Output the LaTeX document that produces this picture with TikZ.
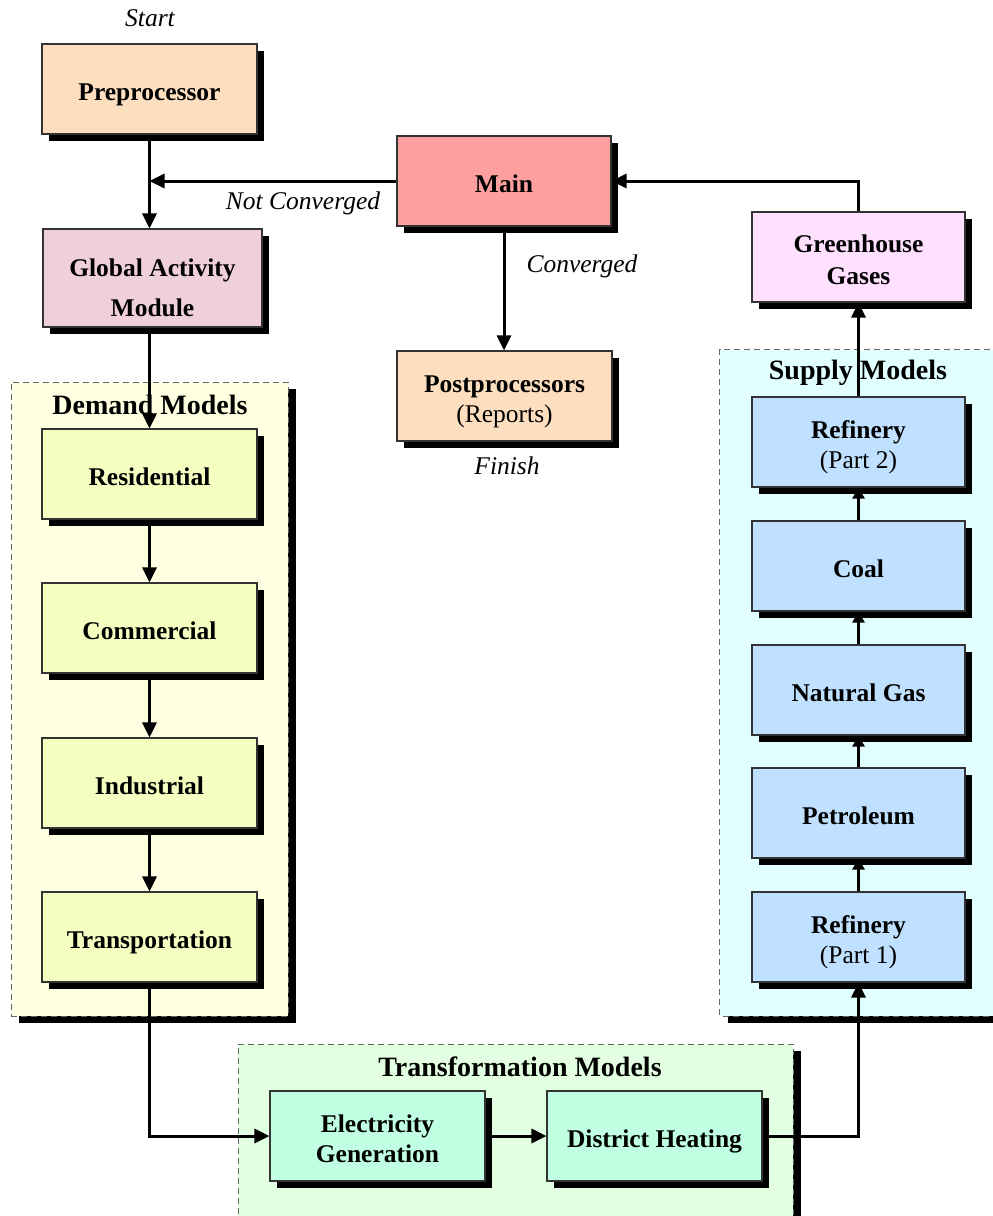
\documentclass[tikz,border=0pt]{standalone}
\usepackage{fontspec}
\setmainfont{Liberation Serif}
\usetikzlibrary{arrows.meta,shadows,calc}
\definecolor{cPre}{RGB}{253,223,192}
\definecolor{cMain}{RGB}{255,160,160}
\definecolor{cGam}{RGB}{240,208,216}
\definecolor{cGhg}{RGB}{255,224,255}
\definecolor{cDemBox}{RGB}{243,254,192}
\definecolor{cDemBg}{RGB}{255,255,226}
\definecolor{cSupBg}{RGB}{226,255,255}
\definecolor{cSupBox}{RGB}{192,224,255}
\definecolor{cTrBg}{RGB}{226,255,226}
\definecolor{cTrBox}{RGB}{192,255,226}
\tikzset{
  box/.style={draw=black!80, line width=1.1pt, minimum width=215pt, minimum height=90pt,
    align=center, inner sep=2pt, font=\fontsize{25.5}{30}\selectfont\bfseries,
    text height=22pt, text depth=0pt,
    drop shadow={shadow xshift=7pt, shadow yshift=-7pt, fill=black, opacity=1}},
  twoline/.style={text height=53pt},
  grp/.style={draw=black!60, dashed, dash pattern=on 6pt off 4pt, line width=0.9pt, inner sep=0pt,
    drop shadow={shadow xshift=8pt, shadow yshift=-7pt, fill=black, opacity=1}},
  grpedge/.style={draw=black!60, dash pattern=on 6pt off 4pt, line width=0.9pt},
  grptitle/.style={font=\fontsize{28}{32}\selectfont\bfseries, inner sep=0pt},
  lbl/.style={font=\fontsize{25.5}{30}\selectfont\itshape, inner sep=0pt},
  conn/.style={line width=3pt, -{Triangle[length=15pt,width=14pt]}},
  sconn/.style={line width=3pt, -{Triangle[length=11pt,width=12pt]}}
}
\begin{document}
\begin{tikzpicture}[x=1pt,y=-1pt]
\useasboundingbox (0,0) rectangle (993,1216);
% groups
\node[grp, fill=cDemBg, minimum width=277pt, minimum height=634pt] (dem) at (149.5,699) {};
\node[fill=cSupBg, inner sep=0pt, minimum width=300pt, minimum height=666pt,
  drop shadow={shadow xshift=8pt, shadow yshift=-7pt, fill=black, opacity=1}] (sup) at (870,683) {};
\draw[grpedge] (sup.north east) -- (sup.north west) -- (sup.south west) -- (sup.south east);
\node[grp, fill=cTrBg, minimum width=555pt, minimum height=186pt] (tra) at (515.5,1137) {};
\node[grptitle] (demT) at (150,405) {Demand Models};
\node[grptitle] (supT) at (858,373) {Supply Models};
\node[grptitle] (traT) at (520,1067) {Transformation Models};
% labels
\node[lbl] (start) at (150,18) {Start};
\node[lbl] (finish) at (507,466) {Finish};
\node[lbl] (conv) at (582,266) {Converged};
\node[lbl] (nconv) at (303,203) {Not Converged};
% boxes
\node[box, fill=cPre] (pre) at (149.5,89) {Preprocessor};
\node[box, fill=cMain, minimum width=214pt] (main) at (504,181) {Main};
\node[box, fill=cGam, minimum width=219pt, minimum height=98pt, text height=77pt] (gam) at (152.5,278) {Global Activity\\[10pt]Module};
\node[box, twoline, fill=cPre] (post) at (504.5,396) {Postprocessors\\\mdseries(Reports)};
\node[box, fill=cGhg, minimum width=213pt, text height=55pt] (ghg) at (858.5,257) {Greenhouse\\[2pt]Gases};
\node[box, fill=cDemBox] (res) at (149.5,474) {Residential};
\node[box, fill=cDemBox] (com) at (149.5,628) {Commercial};
\node[box, fill=cDemBox] (ind) at (149.5,783) {Industrial};
\node[box, fill=cDemBox] (trn) at (149.5,937) {Transportation};
\node[box, twoline, fill=cSupBox, minimum width=213pt] (ref2) at (858.5,442) {Refinery\\\mdseries(Part 2)};
\node[box, fill=cSupBox, minimum width=213pt] (coal) at (858.5,566) {Coal};
\node[box, fill=cSupBox, minimum width=213pt] (ng) at (858.5,690) {Natural Gas};
\node[box, fill=cSupBox, minimum width=213pt] (pet) at (858.5,813) {Petroleum};
\node[box, twoline, fill=cSupBox, minimum width=213pt] (ref1) at (858.5,937) {Refinery\\\mdseries(Part 1)};
\node[box, twoline, fill=cTrBox] (elec) at (377.5,1136) {Electricity\\Generation};
\node[box, fill=cTrBox] (dh) at (654.5,1136) {District Heating};
% connectors
\draw[conn] (pre.south) -- (pre.south |- gam.north);
\draw[conn] (main.west) -- (main.west -| pre.south);
\draw[conn] (main.south) -- (main.south |- post.north);
\draw[conn] (ghg.north) -- (ghg.north |- main.east) -- (main.east);
\draw[conn] (pre.south |- gam.south) -- (pre.south |- res.north);
\draw[conn] (res.south) -- (com.north);
\draw[conn] (com.south) -- (ind.north);
\draw[conn] (ind.south) -- (trn.north);
\draw[conn] (trn.south) -- (trn.south |- elec.west) -- (elec.west);
\draw[conn] (elec.east) -- (dh.west);
\draw[conn] (dh.east) -- (dh.east -| ref1.south) -- (ref1.south);
\draw[sconn] (ref1.north) -- (pet.south);
\draw[sconn] (pet.north) -- (ng.south);
\draw[sconn] (ng.north) -- (coal.south);
\draw[sconn] (coal.north) -- (ref2.south);
\draw[conn] (ref2.north) -- (ghg.south);
\end{tikzpicture}
\end{document}
